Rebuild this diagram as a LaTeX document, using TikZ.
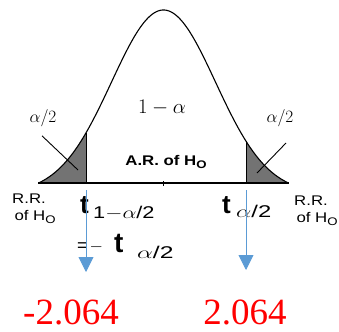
\documentclass[tikz,border=0pt]{standalone}
\usepackage{graphicx}
\usepackage{fontspec}
\setsansfont{Liberation Sans}
\newfontfamily\valfont{Liberation Serif}
\newfontfamily\widesans[FakeStretch=1.2]{Liberation Sans}
\usetikzlibrary{arrows.meta}
\definecolor{critblue}{RGB}{91,155,213}
\definecolor{tailgray}{RGB}{115,115,115}
\newcommand{\bell}[1]{183-173*(exp(-((#1-163.5)/52)^2/2)-0.0557)/0.9443}
\newcommand{\wide}[2][1.4]{\scalebox{#1}[1]{#2}}
\begin{document}
\begin{tikzpicture}[x=1pt, y=-1pt, every node/.style={inner sep=0pt, font=\sffamily},
    regtxt/.style={font=\widesans\fontsize{14}{17}\selectfont, align=left},
    mathtxt/.style={font=\fontsize{18}{18}\selectfont},
    tbold/.style={anchor=base west, font=\sffamily\bfseries\fontsize{26}{26}\selectfont},
    subtxt/.style={anchor=base west, font=\sffamily\fontsize{17}{17}\selectfont},
    critarrow/.style={draw=critblue, line width=0.9pt, -{Triangle[width=15pt, length=15pt]}, critblue},
    value/.style={anchor=base, text depth=0pt, font=\valfont\fontsize{37}{37}\selectfont, text=red}]
  \useasboundingbox (0,0) rectangle (339,331);
  % shaded tails
  \fill[tailgray] (39.5,183) -- plot[domain=39.5:86, samples=30] (\x, {\bell{\x}}) -- (86,183) -- cycle;
  \fill[tailgray] (246,183) -- plot[domain=246:287.5, samples=30] (\x, {\bell{\x}}) -- (287.5,183) -- cycle;
  % curve and axis
  \draw[line width=1.1pt] plot[domain=39.5:287.5, samples=120, smooth] (\x, {\bell{\x}});
  \draw[line width=0.8pt] (86,183) -- (86,{\bell{86}});
  \draw[line width=0.8pt] (246,183) -- (246,{\bell{246}});
  \draw[line width=1.6pt] (38,183) -- (289,183);
  \draw[line width=0.6pt] (163.5,181) -- (163.5,186);
  % labels on the curve
  \node[font=\fontsize{22}{22}\selectfont] (conf) at (162,108) {$1-\alpha$};
  \node[mathtxt] (lalpha) at (43,118) {$\alpha/2$};
  \node[mathtxt] (ralpha) at (280,118) {$\alpha/2$};
  \coordinate (lin) at (78,170);
  \coordinate (rin) at (257,173);
  \coordinate (rtop) at (286,143);
  \draw[line width=0.9pt] ([xshift=-1pt, yshift=-9pt]lalpha.south) -- (lin);
  \draw[line width=0.9pt] (rtop) -- (rin);
  \node[font=\widesans\bfseries\fontsize{14}{14}\selectfont] (accept) at (166,162) {A.R. of H\raisebox{-3pt}{\fontsize{11}{11}\selectfont O}};
  % rejection regions
  \node[regtxt, anchor=north west] (lrr) at (12,194) {R.R.\\\,of H\raisebox{-3pt}{\fontsize{11}{11}\selectfont O}};
  \node[regtxt, anchor=north west] (rrr) at (294,196) {R.R.\\\,of H\raisebox{-3pt}{\fontsize{11}{11}\selectfont O}};
  % critical values
  \node[tbold] (tlow) at (80,213) {t};
  \node[subtxt] (tlowsub) at (93,218) {\wide[1.28]{1$-\alpha$/2}};
  \node[tbold] (tup) at (222,213) {t};
  \node[subtxt] (tupsub) at (236,217.5) {\wide{$\alpha$/2}};
  \node[anchor=base west, font=\sffamily\fontsize{18}{18}\selectfont] (eqneg) at (77,251) {=\hspace{2pt}$-$};
  \node[tbold, font=\sffamily\bfseries\fontsize{28}{28}\selectfont] (tneg) at (114,252) {t};
  \node[subtxt] (tnegsub) at (137,258) {\wide[1.45]{$\alpha$/2}};
  \coordinate (lstart) at (86,190);
  \coordinate (lend) at (86,272);
  \coordinate (rstart) at (246,190);
  \coordinate (rend) at (246,270);
  \draw[critarrow] (lstart) -- (lend);
  \draw[critarrow] (rstart) -- (rend);
  \node[value] (lval) at (71,324) {-2.064};
  \node[value] (rval) at (245,324) {2.064};
\end{tikzpicture}
\end{document}
